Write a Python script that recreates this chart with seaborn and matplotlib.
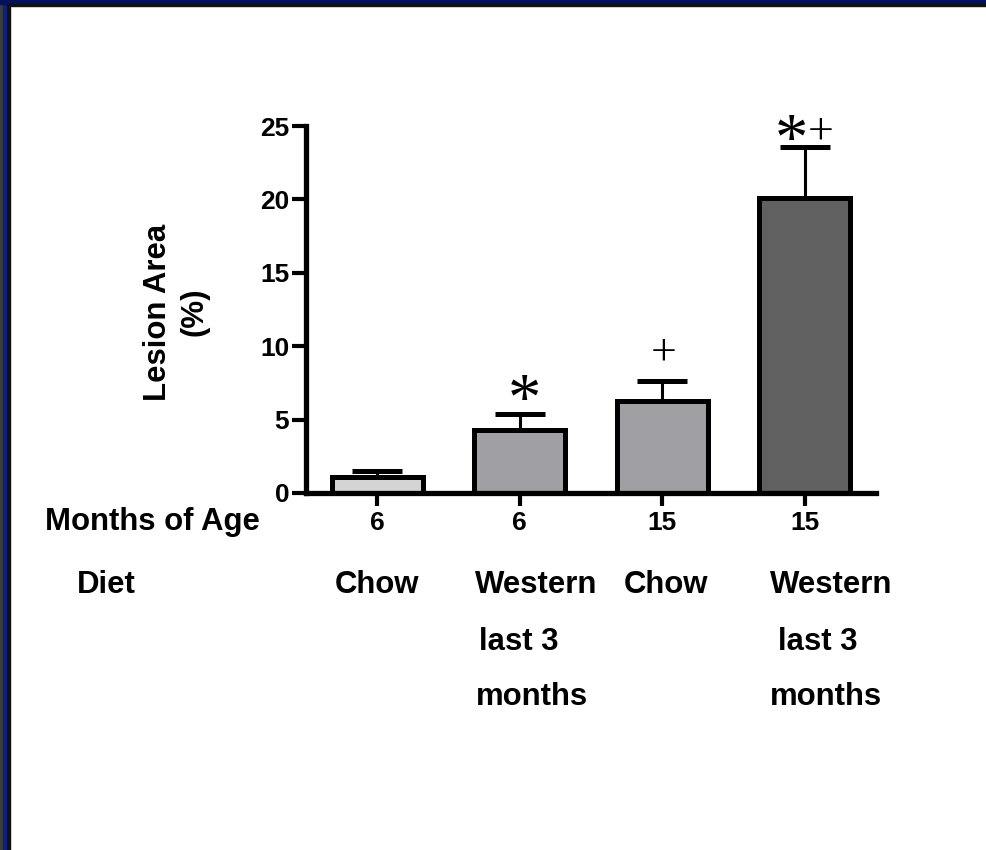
import numpy as np
import pandas as pd
import matplotlib
matplotlib.use("Agg")
import matplotlib.pyplot as plt
import seaborn as sns

# ── Data ──────────────────────────────────────────────────────
groups      = ["6 Chow", "6 Western", "15 Chow", "15 Western"]
months_age  = ["6", "6", "15", "15"]
lesion_area = [1.1, 4.3, 6.25, 20.1]
lesion_sem  = [0.4, 1.1, 1.4, 3.5]
has_star    = [False, True, False, True]
has_plus    = [False, False, True, True]
diet_line1  = ["Chow", "Western", "Chow", "Western"]
diet_line2  = ["", "last 3", "", "last 3"]
diet_line3  = ["", "months", "", "months"]
bar_colors  = ["#d4d4d4", "#a09fa4", "#a09fa4", "#606060"]

# ── Style ─────────────────────────────────────────────────────
sns.set_theme(style="white")
plt.rcParams["font.family"] = ["Liberation Sans", "DejaVu Sans"]
plt.rcParams["font.weight"] = "bold"
plt.rcParams["text.color"] = "black"

W, H = 986, 850
fig = plt.figure(figsize=(W / 100, H / 100), dpi=100)
fig.patch.set_facecolor("white")

TXT = 22.4   # labels round the axes
TICK = 19


def fx(px):
    return px / W


def fy(py):
    return 1 - py / H


# slide frame (blue border)
fig.patches.append(plt.Rectangle((0, 0), fx(3), 1, transform=fig.transFigure,
                                 color="#3c3c3c", zorder=0))
fig.patches.append(plt.Rectangle((fx(3), 0), fx(4), 1, transform=fig.transFigure,
                                 color="#0b2080", zorder=0))
fig.patches.append(plt.Rectangle((fx(7), 0), fx(3), fy(4), transform=fig.transFigure,
                                 color="#111111", zorder=0))
fig.patches.append(plt.Rectangle((0, fy(4)), 1, 4 / H, transform=fig.transFigure,
                                 color="#03125a", zorder=0))
fig.patches.append(plt.Rectangle((fx(7), fy(6)), 1, 2 / H, transform=fig.transFigure,
                                 color="#111111", zorder=0))

# ── Axes ──────────────────────────────────────────────────────
ax = fig.add_axes([fx(306), fy(493), fx(876) - fx(306), fy(126) - fy(493)])
ax.set_facecolor("none")

df = pd.DataFrame({"group": groups, "lesion": lesion_area})
sns.barplot(data=df, x="group", y="lesion", hue="group", palette=bar_colors,
            legend=False, width=0.64, linewidth=3.6, edgecolor="black",
            saturation=1, ax=ax, zorder=2)

xpos = np.arange(len(groups))
ax.errorbar(xpos, lesion_area, yerr=[np.zeros(len(groups)), lesion_sem],
            fmt="none", ecolor="black", elinewidth=2.2, capsize=18,
            capthick=3.6, zorder=3, clip_on=False)

# significance marks
star_kw = dict(family="Liberation Serif", fontsize=48, fontweight="normal",
               ha="center", va="center", color="black", clip_on=False)
plus_kw = dict(family="Liberation Serif", fontsize=33, fontweight="normal",
               ha="center", va="center", color="black", clip_on=False)
for i in range(len(groups)):
    top = lesion_area[i] + lesion_sem[i]
    if has_star[i] and has_plus[i]:
        ax.text(i - 0.095, top + 0.25, "*", **star_kw)
        ax.text(i + 0.115, top + 0.95, "+", **plus_kw)
    elif has_star[i]:
        ax.text(i + 0.035, top + 0.74, "*", **star_kw)
    elif has_plus[i]:
        ax.text(i + 0.01, top + 1.85, "+", **plus_kw)

ax.set_xlim(-0.5, 3.5)
ax.set_ylim(0, 25)
ax.set_yticks([0, 5, 10, 15, 20, 25])
ax.set_xticks(xpos)
ax.set_xticklabels(months_age)
ax.set_xlabel("")
ax.set_ylabel("")
sns.despine(ax=ax)
for side in ["left", "bottom"]:
    ax.spines[side].set_linewidth(3.8)
    ax.spines[side].set_color("black")
ax.tick_params(axis="y", direction="out", length=10, width=3, pad=2,
               labelsize=TICK, colors="black", left=True)
ax.tick_params(axis="x", direction="out", length=9, width=3, pad=4,
               labelsize=TICK, colors="black", bottom=True)
for lab in ax.get_xticklabels() + ax.get_yticklabels():
    lab.set_fontweight("bold")

# ── Labels around the axes ────────────────────────────────────
fig.text(fx(176), fy(312), "Lesion Area\n(%)", rotation=90, ha="center",
         va="center", multialignment="center", linespacing=1.3,
         fontsize=TXT, fontweight="bold")
fig.text(fx(45), fy(530), "Months of Age", ha="left", va="baseline",
         fontsize=TXT, fontweight="bold")
fig.text(fx(77), fy(593), "Diet", ha="left", va="baseline",
         fontsize=TXT, fontweight="bold")

line1_center = [377.5, 536, 666, 831]
line2_center = [0, 519, 0, 818]
line3_center = [0, 532, 0, 826]
for i in range(len(groups)):
    fig.text(fx(line1_center[i]), fy(593), diet_line1[i], ha="center",
             va="baseline", fontsize=TXT, fontweight="bold")
    if diet_line2[i]:
        fig.text(fx(line2_center[i]), fy(650), diet_line2[i], ha="center",
                 va="baseline", fontsize=TXT, fontweight="bold")
    if diet_line3[i]:
        fig.text(fx(line3_center[i]), fy(705), diet_line3[i], ha="center",
                 va="baseline", fontsize=TXT, fontweight="bold")

fig.savefig("out.png", dpi=100)
